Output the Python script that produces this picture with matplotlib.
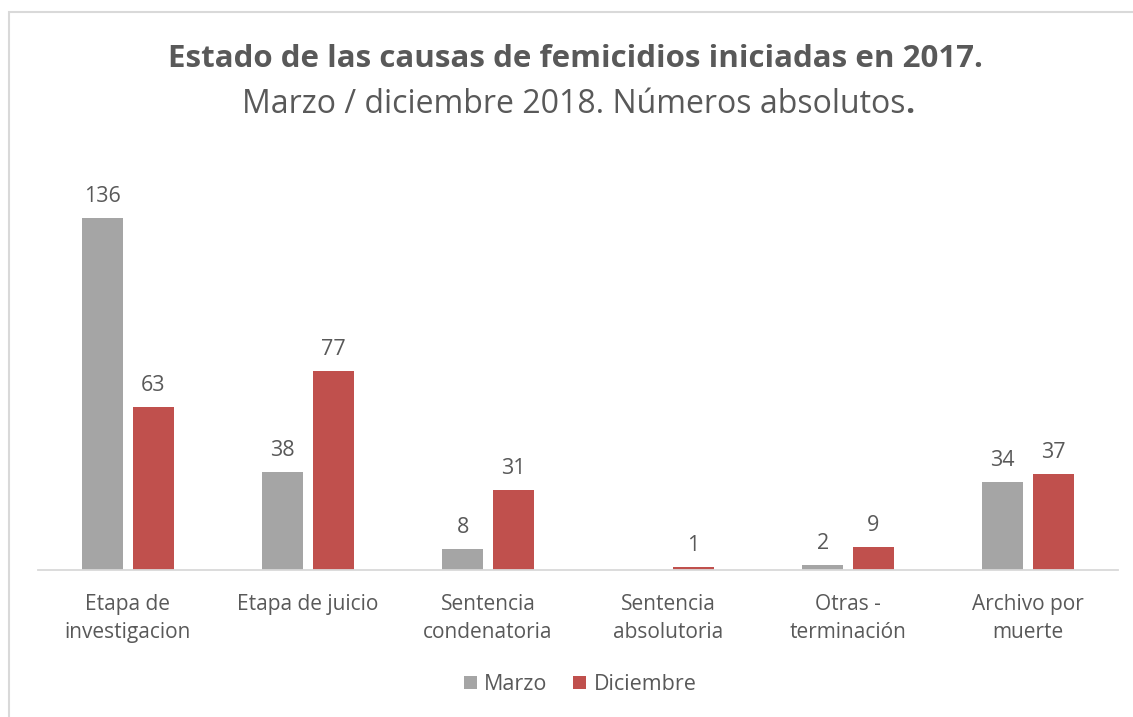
import numpy as np
import matplotlib.pyplot as plt
from matplotlib.patches import Rectangle

categorias = ['Etapa de\ninvestigacion', 'Etapa de juicio', 'Sentencia\ncondenatoria',
              'Sentencia\nabsolutoria', 'Otras -\nterminación', 'Archivo por\nmuerte']
marzo = [136, 38, 8, 0, 2, 34]
diciembre = [63, 77, 31, 1, 9, 37]

plt.rcParams['font.family'] = ['Open Sans', 'DejaVu Sans']
gris_texto = '#595959'

fig = plt.figure(figsize=(11.33, 7.17), dpi=100)
ax = fig.add_axes([0.0335, 0.205, 0.9533, 0.572])

x = np.arange(len(categorias))
ancho = 0.225
b1 = ax.bar(x - 0.141, marzo, ancho, color='#A5A5A5', label='Marzo')
b2 = ax.bar(x + 0.141, diciembre, ancho, color='#C0504D', label='Diciembre')

# etiquetas de valores (sin el cero)
for barras, vals in ((b1, marzo), (b2, diciembre)):
    for b, v in zip(barras, vals):
        if v == 0:
            continue
        ax.annotate(str(v), (b.get_x() + b.get_width() / 2, v), xytext=(0, 8),
                    textcoords='offset points', ha='center', va='bottom',
                    fontsize=15.5, color=gris_texto)

ax.set_xlim(-0.5, len(categorias) - 0.5)
ax.set_ylim(0, 158.4)
ax.set_yticks([])
ax.set_xticks(x)
ax.set_xticklabels(categorias, fontsize=15, color=gris_texto, linespacing=1.45)
ax.tick_params(axis='x', length=0, pad=17)
for s in ['top', 'right', 'left']:
    ax.spines[s].set_visible(False)
ax.spines['bottom'].set_color('#D9D9D9')
ax.spines['bottom'].set_linewidth(1.3)

fig.text(0.508, 0.918, 'Estado de las causas de femicidios iniciadas en 2017.',
         ha='center', va='center', fontsize=22.5, fontweight='bold', color=gris_texto)
sub = fig.text(0.506, 0.854, 'Marzo / diciembre 2018. Números absolutos',
               ha='center', va='center', fontsize=23, color=gris_texto)
# punto final en negrita
fig.add_artist(plt.Annotation('.', xy=(1, 0), xycoords=sub, va='bottom', ha='left',
                              fontsize=23, fontweight='bold', color=gris_texto))

ley = fig.legend(loc='center', bbox_to_anchor=(0.512, 0.045), ncol=2, frameon=False,
                 fontsize=15.5, handlelength=0.6, handleheight=0.6, handletextpad=0.35,
                 columnspacing=1.2)
for t in ley.get_texts():
    t.set_color(gris_texto)

# marco del grafico
fig.patches.append(Rectangle((9 / 1133, -0.01), 1.0, 1 - 12 / 717 + 0.01,
                             transform=fig.transFigure, fill=False,
                             edgecolor='#D9D9D9', linewidth=1.5))

fig.savefig('out.png', dpi=100)
